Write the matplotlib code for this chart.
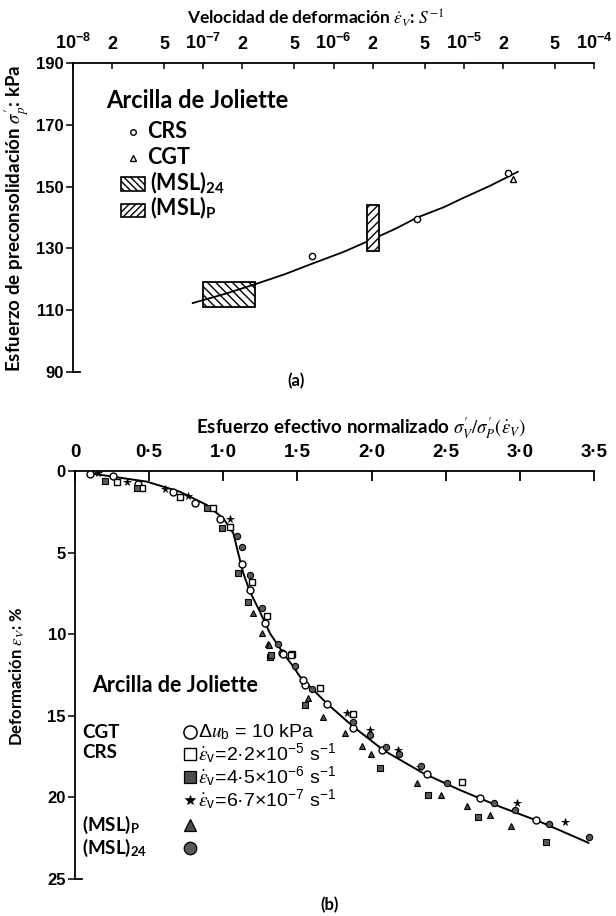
import matplotlib
matplotlib.use('Agg')
import matplotlib.pyplot as plt
from matplotlib.patches import Rectangle
from matplotlib.lines import Line2D

plt.rcParams['font.family'] = ['Liberation Sans', 'DejaVu Sans']
plt.rcParams['mathtext.fontset'] = 'stix'
plt.rcParams['mathtext.default'] = 'it'

# ---------------- Panel (a) data ----------------
rate_ticks = [1e-8, 2e-8, 5e-8, 1e-7, 2e-7, 5e-7, 1e-6, 2e-6, 5e-6, 1e-5, 2e-5, 5e-5, 1e-4]
rate_ticklabels = [r'$\mathregular{10^{-8}}$', '2', '5', r'$\mathregular{10^{-7}}$', '2', '5',
                   r'$\mathregular{10^{-6}}$', '2', '5', r'$\mathregular{10^{-5}}$', '2', '5',
                   r'$\mathregular{10^{-4}}$']
sp_ticks = [90, 110, 130, 150, 170, 190]

crs_rate = [6.8e-7, 4.4e-6, 2.2e-5]
crs_sp = [127.5, 139.4, 154.5]
cgt_rate = [2.4e-5]
cgt_sp = [152.4]
msl24_rate = [1.0e-7, 2.5e-7]
msl24_sp = [111.0, 119.0]
mslp_rate = [1.8e-6, 2.25e-6]
mslp_sp = [129.0, 144.0]
fit_rate = [8.3e-8, 1.5e-7, 2.5e-7, 4.2e-7, 6.8e-7, 1.2e-6, 2.0e-6, 3.0e-6, 4.4e-6, 7.0e-6, 1.0e-5, 1.6e-5, 2.6e-5]
fit_sp = [112.3, 115.4, 118.4, 121.6, 125.0, 128.9, 133.0, 136.4, 140.0, 143.3, 146.4, 150.3, 154.8]

# ---------------- Panel (b) data ----------------
norm_ticks = [0, 0.5, 1.0, 1.5, 2.0, 2.5, 3.0, 3.5]
norm_ticklabels = ['0', '0·5', '1·0', '1·5', '2·0', '2·5', '3·0', '3·5']
strain_ticks = [0, 5, 10, 15, 20, 25]

cgt_x = [0.101, 0.259, 0.427, 0.663, 0.809, 0.978, 1.124, 1.180, 1.281, 1.394, 1.40, 1.55,
         1.540, 1.697, 1.877, 2.068, 2.371, 2.731, 3.109]
cgt_y = [0.20, 0.31, 0.82, 1.27, 1.94, 2.96, 5.70, 7.29, 9.33, 11.17, 11.2, 13.1,
         12.81, 14.28, 15.77, 17.10, 18.57, 20.06, 21.38]

crs1_x = [0.281, 0.450, 0.708, 0.933, 1.045, 1.191, 1.292, 1.461, 1.46, 1.652, 1.872, 2.607]
crs1_y = [0.65, 1.02, 1.61, 2.25, 3.45, 6.78, 8.86, 11.23, 11.27, 13.32, 14.91, 19.04]

crs2_x = [0.202, 0.416, 0.888, 0.989, 1.101, 1.169, 1.315, 1.32, 1.551, 2.057, 2.378, 2.720, 3.176]
crs2_y = [0.61, 1.02, 2.25, 3.51, 6.27, 8.00, 11.37, 11.27, 14.34, 18.22, 19.85, 21.18, 22.71]

crs3_x = [0.157, 0.348, 0.607, 0.764, 1.045, 1.832, 1.989, 2.180, 2.326, 2.978, 3.304]
crs3_y = [0.14, 0.65, 1.12, 1.53, 2.96, 14.81, 15.87, 17.10, 18.12, 20.32, 21.49]

mslp_x = [1.203, 1.259, 1.304, 1.310, 1.573, 1.674, 1.821, 1.933, 1.994, 2.304, 2.466, 2.641, 2.798, 2.938]
mslp_y = [8.72, 9.91, 10.60, 10.66, 13.93, 15.06, 16.07, 16.85, 17.34, 19.14, 19.85, 20.53, 21.08, 21.75]

msl24_x = [1.090, 1.124, 1.180, 1.259, 1.371, 1.483, 1.596, 1.877, 1.989, 2.097, 2.187, 2.331,
           2.511, 2.827, 2.967, 3.198, 3.468]
msl24_y = [3.98, 4.68, 6.37, 8.37, 10.60, 11.95, 13.38, 15.36, 16.18, 16.93, 17.34, 18.08,
           19.14, 20.32, 20.77, 21.65, 22.41]

curve_x = [0.10, 0.483, 0.708, 0.888, 1.00, 1.068, 1.101, 1.135, 1.180, 1.247, 1.315, 1.405,
           1.472, 1.517, 1.697, 1.877, 2.079, 2.349, 2.596, 2.866, 3.136, 3.462]
curve_y = [0.14, 0.65, 1.27, 2.08, 2.90, 3.82, 5.04, 6.27, 7.40, 8.62, 9.95, 11.17,
           11.99, 12.60, 14.23, 15.67, 17.10, 18.52, 19.55, 20.57, 21.49, 22.78]

W, H = 616, 916
fig = plt.figure(figsize=(W / 100, H / 100), dpi=100)


def fx(px):
    return px / W


def fy(py):
    return 1 - py / H


label_font = dict(family=['Lato', 'DejaVu Sans'], fontweight='bold')

# ================= Panel (a) =================
axa = fig.add_axes([fx(73), fy(372), (594 - 73) / W, (372 - 63) / H])
axa.set_xscale('log')
axa.set_xlim(1e-8, 1e-4)
axa.set_ylim(90, 190)
for s in ['bottom', 'right']:
    axa.spines[s].set_visible(False)
for s in ['top', 'left']:
    axa.spines[s].set_linewidth(1.3)
axa.xaxis.tick_top()
axa.set_xticks(rate_ticks)
axa.set_xticklabels(rate_ticklabels)
axa.xaxis.set_minor_locator(matplotlib.ticker.NullLocator())
axa.tick_params(axis='x', direction='in', length=4, width=1.1, pad=7, labelsize=13)
axa.set_yticks(sp_ticks)
axa.tick_params(axis='y', direction='out', length=5, width=1.1, pad=1.5, labelsize=12)
for lab in axa.get_xticklabels() + axa.get_yticklabels():
    lab.set_fontweight('bold')
axa.plot([0, 0.013], [0, 0], transform=axa.transAxes, color='black', lw=1.3, clip_on=False)

axa.plot(fit_rate, fit_sp, color='black', lw=1.3, zorder=2)
axa.add_patch(Rectangle((msl24_rate[0], msl24_sp[0]), msl24_rate[1] - msl24_rate[0],
                        msl24_sp[1] - msl24_sp[0], facecolor='white', edgecolor='black',
                        hatch='\\\\\\\\', lw=1.3, zorder=1))
axa.add_patch(Rectangle((mslp_rate[0], mslp_sp[0]), mslp_rate[1] - mslp_rate[0],
                        mslp_sp[1] - mslp_sp[0], facecolor='white', edgecolor='black',
                        hatch='////', lw=1.3, zorder=3))
axa.plot(crs_rate, crs_sp, linestyle='none', marker='o', ms=4.5, mfc='white', mec='black',
         mew=1.0, zorder=4)
axa.plot(cgt_rate, cgt_sp, linestyle='none', marker='^', ms=4, mfc='white', mec='black',
         mew=1.0, zorder=4)

# legend (a)
fig.text(fx(106), fy(100), 'Arcilla de Joliette', fontsize=17, va='center', ha='left', **label_font)
fig.add_artist(Line2D([fx(133)], [fy(132)], marker='o', ms=4, mfc='white', mec='black', mew=1.0))
fig.text(fx(147), fy(132), 'CRS', fontsize=15.5, va='center', ha='left', **label_font)
fig.add_artist(Line2D([fx(133)], [fy(158)], marker='^', ms=4, mfc='white', mec='black', mew=1.0))
fig.text(fx(147), fy(158), 'CGT', fontsize=15.5, va='center', ha='left', **label_font)
fig.add_artist(Rectangle((fx(121), fy(191)), fx(24), 14 / H, transform=fig.transFigure,
                         facecolor='white', edgecolor='black', hatch='\\\\\\\\\\', lw=1.2))
fig.text(fx(150), fy(183), r'(MSL)$_{\mathregular{24}}$', fontsize=15.5, va='center', ha='left', **label_font)
fig.add_artist(Rectangle((fx(121), fy(217)), fx(24), 13 / H, transform=fig.transFigure,
                         facecolor='white', edgecolor='black', hatch='/////', lw=1.2))
fig.text(fx(150), fy(208), r'(MSL)$_{\mathregular{P}}$', fontsize=15.5, va='center', ha='left', **label_font)

fig.text(fx(316), fy(18), r'Velocidad de deformación $\dot{\epsilon}_{V}$: $S^{-1}$', fontsize=12.5,
         ha='center', va='center', **label_font)
fig.text(fx(17), fy(218), r"Esfuerzo de preconsolidación $\sigma^{\prime}_{p}$: kPa", fontsize=13.5,
         ha='center', va='center', rotation=90, **label_font)
fig.text(fx(296), fy(381), '(a)', fontsize=12, ha='center', va='center', **label_font)

# ================= Panel (b) =================
axb = fig.add_axes([fx(75), fy(879), (594 - 75) / W, (879 - 471) / H])
axb.set_xlim(0, 3.5)
axb.set_ylim(25, 0)
for s in ['bottom', 'right']:
    axb.spines[s].set_visible(False)
for s in ['top', 'left']:
    axb.spines[s].set_linewidth(1.3)
axb.xaxis.tick_top()
axb.set_xticks(norm_ticks)
axb.set_xticklabels(norm_ticklabels)
axb.tick_params(axis='x', direction='in', length=7, width=1.3, pad=7, labelsize=13.5)
axb.set_yticks(strain_ticks)
axb.tick_params(axis='y', direction='out', length=5, width=1.1, pad=1.5, labelsize=12)
for lab in axb.get_xticklabels() + axb.get_yticklabels():
    lab.set_fontweight('bold')
axb.plot([0, 0.013], [0, 0], transform=axb.transAxes, color='black', lw=1.3, clip_on=False)

axb.plot(curve_x, curve_y, color='black', lw=1.4, zorder=2)
mk = dict(linestyle='none', zorder=3)
axb.plot(cgt_x, cgt_y, marker='o', ms=5, mfc='white', mec='black', mew=1.0, **mk)
axb.plot(crs1_x, crs1_y, marker='s', ms=4.5, mfc='white', mec='black', mew=1.0, **mk)
axb.plot(crs2_x, crs2_y, marker='s', ms=4, mfc='0.35', mec='black', mew=0.8, **mk)
axb.plot(crs3_x, crs3_y, marker='*', ms=5.5, mfc='black', mec='black', mew=0.5, **mk)
axb.plot(mslp_x, mslp_y, marker='^', ms=4.5, mfc='0.3', mec='black', mew=0.8, **mk)
axb.plot(msl24_x, msl24_y, marker='o', ms=4.5, mfc='0.35', mec='black', mew=0.8, **mk)

fig.text(fx(361), fy(428), r'Esfuerzo efectivo normalizado $\sigma^{\prime}_{V}/\sigma^{\prime}_{P}(\dot{\epsilon}_{V})$',
         fontsize=13.5, ha='center', va='center', **label_font)
fig.text(fx(17), fy(676), r'Deformación $\epsilon_{V}$: %', fontsize=12, ha='center', va='center',
         rotation=90, **label_font)
fig.text(fx(330), fy(905), '(b)', fontsize=12, ha='center', va='center', **label_font)

# legend (b)
fig.text(fx(92), fy(685), 'Arcilla de Joliette', fontsize=15.5, va='center', ha='left', **label_font)
fig.text(fx(82), fy(732), 'CGT', fontsize=13.5, va='center', ha='left', **label_font)
fig.text(fx(82), fy(753), 'CRS', fontsize=13.5, va='center', ha='left', **label_font)
fig.text(fx(82), fy(825), r'(MSL)$_{\mathregular{P}}$', fontsize=13.5, va='center', ha='left', **label_font)
fig.text(fx(82), fy(848), r'(MSL)$_{\mathregular{24}}$', fontsize=13.5, va='center', ha='left', **label_font)

sym_x = fx(190)
fig.add_artist(Line2D([sym_x], [fy(732)], marker='o', ms=9.5, mfc='white', mec='black', mew=1.1))
fig.add_artist(Line2D([sym_x], [fy(754)], marker='s', ms=8.5, mfc='white', mec='black', mew=1.0))
fig.add_artist(Line2D([sym_x], [fy(777)], marker='s', ms=8.5, mfc='0.3', mec='black', mew=0.9))
fig.add_artist(Line2D([sym_x], [fy(800)], marker='*', ms=7.5, mfc='black', mec='black', mew=0.5))
fig.add_artist(Line2D([sym_x], [fy(825)], marker='^', ms=9, mfc='0.3', mec='black', mew=0.9))
fig.add_artist(Line2D([sym_x], [fy(848)], marker='o', ms=9, mfc='0.35', mec='black', mew=0.9))

leg_kw = dict(fontsize=14, va='center', ha='left', family=['Liberation Sans', 'DejaVu Sans'])
fig.text(fx(198), fy(732), r'$\mathregular{\Delta}u_{\mathregular{b}}$ = 10 kPa', **leg_kw)
fig.text(fx(198), fy(754), r'$\dot{\varepsilon}_{\mathregular{v}}$=2·2×10$^{\mathregular{-5}}$ s$^{\mathregular{-1}}$', **leg_kw)
fig.text(fx(198), fy(777), r'$\dot{\varepsilon}_{\mathregular{v}}$=4·5×10$^{\mathregular{-6}}$ s$^{\mathregular{-1}}$', **leg_kw)
fig.text(fx(198), fy(800), r'$\dot{\varepsilon}_{\mathregular{v}}$=6·7×10$^{\mathregular{-7}}$ s$^{\mathregular{-1}}$', **leg_kw)

fig.savefig('out.png', dpi=100)
